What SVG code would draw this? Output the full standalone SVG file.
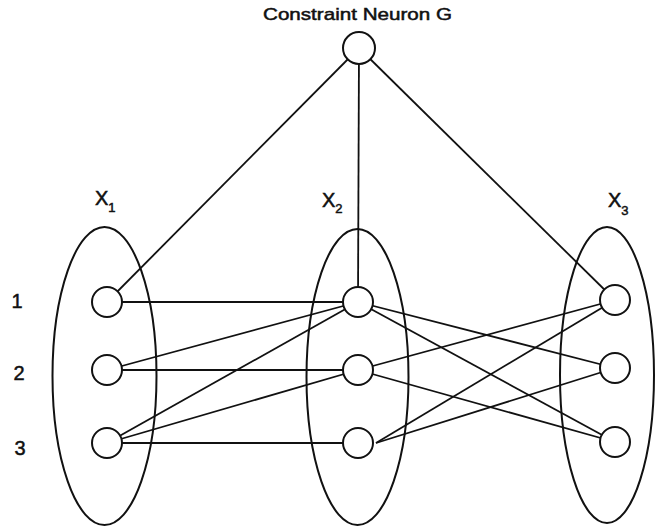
<svg xmlns="http://www.w3.org/2000/svg" width="656" height="528" viewBox="0 0 656 528">
<style>
.e{fill:none;stroke:#111;stroke-width:2}
.n{fill:#fff;stroke:#111;stroke-width:2}
.c line{stroke:#111;stroke-width:1.8}
text{font-family:"Liberation Sans",Arial,sans-serif;fill:#111;stroke:#111;stroke-width:0.5}
.lab{font-size:20px}
.sub{font-size:13px}
</style>
<rect width="656" height="528" fill="#fff"/>
<g id="domains">
<ellipse id="X1" class="e" cx="104.5" cy="376" rx="52" ry="149"/>
<ellipse id="X2" class="e" cx="357.5" cy="377" rx="51" ry="148"/>
<ellipse id="X3" class="e" cx="607" cy="375" rx="47" ry="148"/>
</g>
<g class="c" id="connectors">
<line x1="359" y1="48" x2="107" y2="302"/>
<line x1="359" y1="48" x2="358" y2="302"/>
<line x1="359" y1="48" x2="615" y2="300"/>
<line x1="107" y1="302" x2="358" y2="302"/>
<line x1="107" y1="370" x2="358" y2="302"/>
<line x1="107" y1="370" x2="358" y2="370"/>
<line x1="107" y1="443" x2="358" y2="302"/>
<line x1="107" y1="443" x2="358" y2="370"/>
<line x1="107" y1="443" x2="358" y2="443"/>
<line x1="358" y1="302" x2="615" y2="368"/>
<line x1="358" y1="302" x2="615" y2="442"/>
<line x1="358" y1="370" x2="615" y2="300"/>
<line x1="358" y1="370" x2="615" y2="442"/>
<line x1="376" y1="443" x2="615" y2="300"/>
<line x1="376" y1="443" x2="615" y2="368"/>
</g>
<g id="G"><circle class="n" cx="359" cy="48" r="16"/>
<text x="357.5" y="19.5" font-size="17" text-anchor="middle" textLength="189" lengthAdjust="spacingAndGlyphs">Constraint Neuron G</text></g>
<g id="X1n1"><circle class="n" cx="107" cy="302" r="15"/></g>
<g id="X1n2"><circle class="n" cx="107" cy="370" r="15"/></g>
<g id="X1n3"><circle class="n" cx="107" cy="443" r="15"/></g>
<g id="X2n1"><circle class="n" cx="358" cy="302" r="15"/></g>
<g id="X2n2"><circle class="n" cx="358" cy="370" r="15"/></g>
<g id="X2n3"><circle class="n" cx="358" cy="443" r="15"/></g>
<g id="X3n1"><circle class="n" cx="615" cy="300" r="15"/></g>
<g id="X3n2"><circle class="n" cx="615" cy="368" r="15"/></g>
<g id="X3n3"><circle class="n" cx="615" cy="442" r="15"/></g>
<g id="labels">
<text class="lab" x="95" y="205">X<tspan class="sub" dy="7">1</tspan></text>
<text class="lab" x="322" y="207">X<tspan class="sub" dy="6">2</tspan></text>
<text class="lab" x="608" y="207">X<tspan class="sub" dy="8">3</tspan></text>
<text class="lab" x="17" y="308" text-anchor="middle">1</text>
<text class="lab" x="19" y="380" text-anchor="middle">2</text>
<text class="lab" x="20" y="455" text-anchor="middle">3</text>
</g>
</svg>
